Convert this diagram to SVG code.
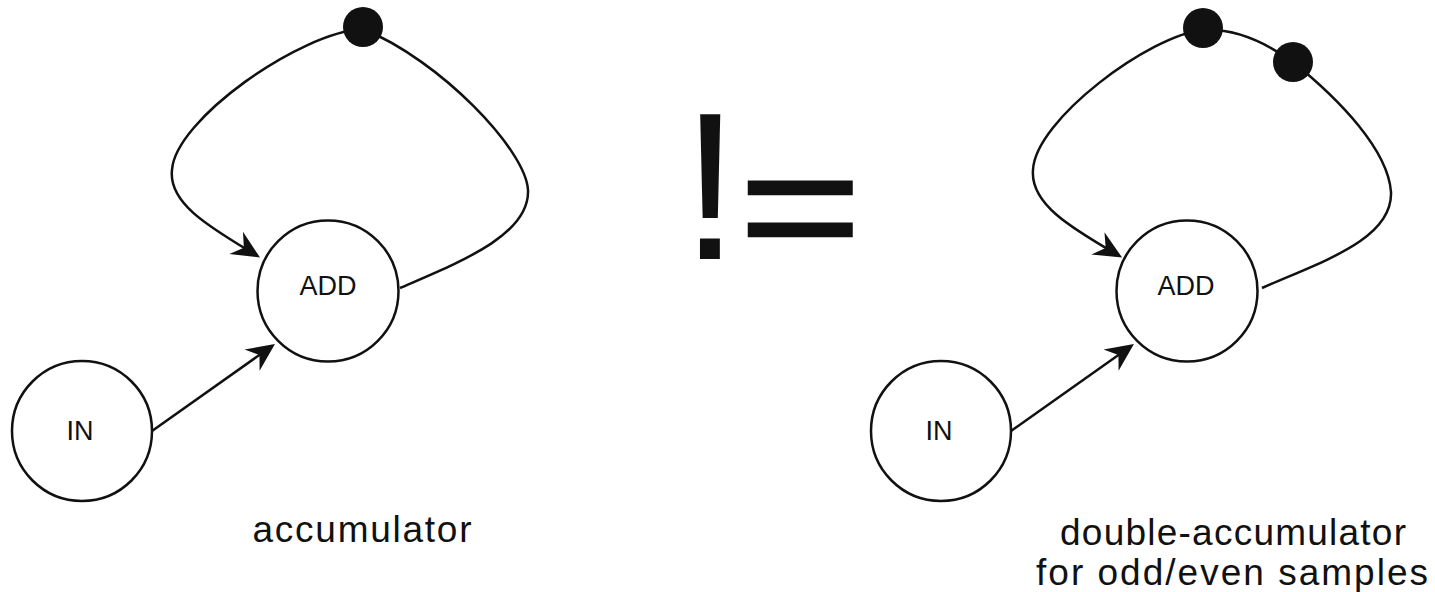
<svg xmlns="http://www.w3.org/2000/svg" width="1435" height="592" viewBox="0 0 1435 592">
<defs>
<style>
.node{fill:#fff;stroke:#111;stroke-width:2.5}
.lbl{font-family:"Liberation Sans",Arial,sans-serif;font-size:27px;fill:#111;text-anchor:middle}
.cap{font-family:"Liberation Sans",Arial,sans-serif;font-size:37px;fill:#111;text-anchor:middle}
.edge{fill:none;stroke:#111;stroke-width:2.5}
.dot{fill:#111}
.big{font-family:"Liberation Sans",Arial,sans-serif;font-size:210px;fill:#111}
</style>
<marker id="arr" markerUnits="userSpaceOnUse" markerWidth="40" markerHeight="40" viewBox="-32 -20 40 40" refX="-3" refY="0" orient="auto">
<path d="M-28,-13 L0,0 L-28,13 L-19,0 Z" fill="#111"/>
</marker>
</defs>
<g id="connectors">
<path class="edge" d="M400,288 C460,262 530,235 528,190 C526,150 440,60 363,29 C300,32 175,120 172,170 C168,205 215,230 257.5,256" marker-end="url(#arr)"/>
<path class="edge" d="M152,431 L272.5,345.7" marker-end="url(#arr)"/>
<path class="edge" d="M1262,288 C1320,262 1393,240 1391,192 C1388,150 1340,100 1293,62 C1265,42 1235,28 1203,30 C1150,35 1035,120 1033,170 C1030,205 1075,230 1119.5,256" marker-end="url(#arr)"/>
<path class="edge" d="M1011,431 L1131.5,345.7" marker-end="url(#arr)"/>
</g>
<g id="left-delay"><circle class="dot" cx="363" cy="27" r="20"/></g>
<g id="left-add"><circle class="node" cx="328" cy="291" r="70.5"/><text class="lbl" x="328" y="295">ADD</text></g>
<g id="left-in"><circle class="node" cx="82" cy="431" r="70"/><text class="lbl" x="80" y="440">IN</text></g>
<g id="right-delay1"><circle class="dot" cx="1203" cy="28" r="20"/></g>
<g id="right-delay2"><circle class="dot" cx="1293" cy="62" r="20"/></g>
<g id="right-add"><circle class="node" cx="1187" cy="291" r="70.5"/><text class="lbl" x="1186" y="295">ADD</text></g>
<g id="right-in"><circle class="node" cx="941" cy="431" r="70"/><text class="lbl" x="939" y="440">IN</text></g>
<g id="neq">
<text class="big" x="681" y="259">!</text>
<text class="big" transform="translate(739,264) scale(1,0.8)" x="0" y="0" stroke="#111" stroke-width="3">=</text>
</g>
<g id="captions">
<text class="cap" x="362" y="542" textLength="219" lengthAdjust="spacing">accumulator</text>
<text class="cap" x="1233" y="545" textLength="346" lengthAdjust="spacing">double-accumulator</text>
<text class="cap" x="1232" y="585" textLength="392" lengthAdjust="spacing">for odd/even samples</text>
</g>
</svg>
